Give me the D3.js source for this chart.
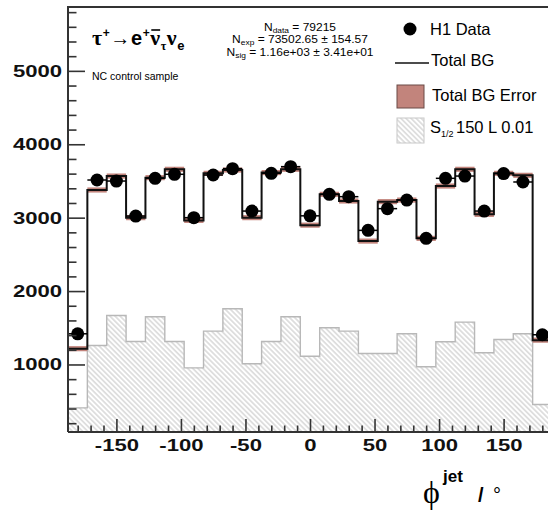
<!DOCTYPE html>
<html><head><meta charset="utf-8">
<script src="https://cdn.jsdelivr.net/npm/d3@7/dist/d3.min.js"></script>
<style>body{margin:0;background:#fff}svg{display:block}</style>
</head><body>
<script>
// phi^jet bin centres (degrees); every bin is 15 degrees wide
const phiBins = [-180,-165,-150,-135,-120,-105,-90,-75,-60,-45,-30,-15,0,15,30,45,60,75,90,105,120,135,150,165,180];
// H1 data, events per bin
const h1Data = [1418,3513,3499,3022,3536,3591,3000,3581,3668,3090,3604,3695,3025,3318,3286,2827,3123,3240,2718,3536,3567,3090,3600,3486,1405];
// total Standard Model background, events per bin
const totalBG = [1215,3377,3567,3000,3545,3659,2963,3604,3649,3000,3614,3659,2898,3318,3227,2681,3218,3240,2718,3431,3659,3045,3604,3577,1331];
// half-height of the background error band (events)
const totalBGErr = 35;
// signal S_1/2, M = 150 GeV, lambda = 0.01 (scaled for display)
const signal = [409,1259,1668,1313,1650,1313,954,1454,1759,1009,1313,1650,1113,1500,1454,1150,1150,1418,968,1309,1577,1159,1340,1418,454];

const xTicks = [-150,-100,-50,0,50,100,150];
const yTicks = [1000,2000,3000,4000,5000];
const statLines = [
  {sym:"N", sub:"data", rest:" = 79215"},
  {sym:"N", sub:"exp", rest:" = 73502.65 \u00b1 154.57"},
  {sym:"N", sub:"sig", rest:" = 1.16e+03 \u00b1 3.41e+01"}
];
const legendItems = ["H1 Data","Total BG","Total BG Error"];

const W = 548, H = 513;
const binHalf = 7.5;
const x = d3.scaleLinear().domain([-187.5,187.5]).range([68,552]);
const y = d3.scaleLinear().domain([80,5870]).range([432,7]);

const svg = d3.select("body").append("svg").attr("width",W).attr("height",H);
const defs = svg.append("defs");
const pat = defs.append("pattern").attr("id","hatch").attr("patternUnits","userSpaceOnUse")
  .attr("width",3.6).attr("height",3.6).attr("patternTransform","rotate(-45)");
pat.append("line").attr("x1",1.8).attr("x2",1.8).attr("y1",0).attr("y2",3.6)
  .attr("stroke","#b4b4b4").attr("stroke-width",0.8);

const steps = vals => phiBins.flatMap((c,i)=>[[c-binHalf, vals[i]],[c+binHalf, vals[i]]]);
const stepLine = d3.line().x(d=>x(d[0])).y(d=>y(d[1]));

// signal: hatched histogram
svg.append("path")
  .attr("d", d3.area().x(d=>x(d[0])).y0(y.range()[0]).y1(d=>y(d[1]))(steps(signal)))
  .attr("fill","url(#hatch)");
svg.append("path").attr("d", stepLine(steps(signal)))
  .attr("fill","none").attr("stroke","#b8b8b8").attr("stroke-width",1.4);

// background error band
svg.append("g").selectAll("rect").data(phiBins).join("rect")
  .attr("x", d=>x(d-binHalf)).attr("width", d=>x(d+binHalf)-x(d-binHalf))
  .attr("y", (d,i)=>y(totalBG[i]+totalBGErr))
  .attr("height", (d,i)=>y(totalBG[i]-totalBGErr)-y(totalBG[i]+totalBGErr))
  .attr("fill","#c2847c");

// background histogram
svg.append("path").attr("d", stepLine(steps(totalBG)))
  .attr("fill","none").attr("stroke","#111").attr("stroke-width",2);

// data points with error bars
const gd = svg.append("g");
gd.selectAll("line.xe").data(phiBins).join("line").attr("class","xe")
  .attr("x1", d=>x(d-binHalf)).attr("x2", d=>x(d+binHalf))
  .attr("y1", (d,i)=>y(h1Data[i])).attr("y2", (d,i)=>y(h1Data[i]))
  .attr("stroke","#000").attr("stroke-width",1.5);
gd.selectAll("line.ye").data(phiBins).join("line").attr("class","ye")
  .attr("x1", d=>x(d)).attr("x2", d=>x(d))
  .attr("y1", (d,i)=>y(h1Data[i]+Math.sqrt(h1Data[i]))).attr("y2", (d,i)=>y(h1Data[i]-Math.sqrt(h1Data[i])))
  .attr("stroke","#000").attr("stroke-width",1.5);
gd.selectAll("circle").data(phiBins).join("circle")
  .attr("cx", d=>x(d)).attr("cy", (d,i)=>y(h1Data[i])).attr("r",6.5).attr("fill","#000");

// frame
svg.append("path").attr("d",`M${x.range()[0]},${y.range()[0]}V${y.range()[1]}H${x.range()[1]}M${x.range()[0]},${y.range()[0]}H${x.range()[1]}`)
  .attr("fill","none").attr("stroke","#333").attr("stroke-width",2);

const styleTicks = g => {
  g.select(".domain").remove();
  g.selectAll(".tick line").attr("stroke","#333").attr("stroke-width",1.6);
};
const styleLabels = g => g.selectAll("text")
  .attr("font-family","'Liberation Sans', Arial, sans-serif").attr("font-weight","bold")
  .attr("font-size",17).attr("fill","#111").attr("transform","scale(1.3,1)");

const yMinor = d3.range(200,5900,200).filter(v=>v%1000!==0);
const xMinor = d3.range(-180,181,10).filter(v=>v%50!==0);

svg.append("g").attr("transform",`translate(${x.range()[0]},0)`)
  .call(d3.axisLeft(y).tickValues(yMinor).tickSize(-8.5).tickFormat("")).call(styleTicks);
svg.append("g").attr("transform",`translate(${x.range()[0]},0)`)
  .call(d3.axisLeft(y).tickValues(yTicks).tickSize(-17).tickPadding(4.5).tickFormat(d=>String(d)))
  .call(styleTicks).call(styleLabels);
svg.append("g").attr("transform",`translate(0,${y.range()[0]})`)
  .call(d3.axisBottom(x).tickValues(xMinor).tickSize(-6.5).tickFormat("")).call(styleTicks);
svg.append("g").attr("transform",`translate(0,${y.range()[0]})`)
  .call(d3.axisBottom(x).tickValues(xTicks).tickSize(-13).tickPadding(7).tickFormat(d=>String(d)))
  .call(styleTicks).call(styleLabels);

// axis title: phi^jet / degree
const sans = "'Liberation Sans', Arial, sans-serif";
const serif = "'Liberation Serif', 'DejaVu Serif', serif";
svg.append("text").attr("x",423).attr("y",503).attr("font-family",serif).attr("font-size",32).text("\u03d5");
svg.append("text").attr("x",443).attr("y",482).attr("font-family",sans).attr("font-weight","bold").attr("font-size",17).text("jet");
svg.append("text").attr("x",478).attr("y",502).attr("font-family",sans).attr("font-weight","bold").attr("font-size",20).text("/");
svg.append("text").attr("x",493).attr("y",502).attr("font-family",sans).attr("font-size",20).text("\u00b0");

// process label, laid out piece by piece
const pieces = [
  {t:"\u03c4", f:serif, s:22, b:0, w:"bold"},
  {t:"+", f:sans, s:12, b:-8, w:"bold"},
  {t:"\u2192", f:serif, s:20, b:0, w:"normal"},
  {t:"e", f:sans, s:20, b:0, w:"bold"},
  {t:"+", f:sans, s:12, b:-8, w:"bold"},
  {t:"\u03bd", f:serif, s:22, b:0, w:"bold", bar:true},
  {t:"\u03c4", f:serif, s:12, b:5, w:"bold"},
  {t:"\u03bd", f:serif, s:22, b:0, w:"bold"},
  {t:"e", f:sans, s:13, b:5, w:"bold"}
];
let px = 92;
const gf = svg.append("g");
pieces.forEach(p => {
  const t = gf.append("text").attr("x",px).attr("y",45+p.b).attr("font-family",p.f)
    .attr("font-size",p.s).attr("font-weight",p.w).text(p.t);
  const w = t.node().getComputedTextLength();
  if (p.bar) gf.append("line").attr("x1",px+1).attr("x2",px+w).attr("y1",30).attr("y2",30)
    .attr("stroke","#000").attr("stroke-width",1.6);
  px += w + 0.6;
});
svg.append("text").attr("x",92).attr("y",80).attr("font-family",sans).attr("font-size",10.5).text("NC control sample");

// event counts (centred block)
statLines.forEach((l,i) => {
  const t = svg.append("text").attr("x",300/1.2).attr("y",31+i*12.5).attr("text-anchor","middle")
    .attr("transform","scale(1.2,1)")
    .attr("font-family",sans).attr("font-size",10);
  t.append("tspan").text(l.sym);
  t.append("tspan").attr("font-size",7).attr("dy",2).text(l.sub);
  t.append("tspan").attr("dy",-2).text(l.rest);
});

// legend
const lg = svg.append("g").attr("font-family",sans).attr("font-size",16.5);
lg.append("circle").attr("cx",410).attr("cy",29).attr("r",6.5).attr("fill","#000");
lg.append("text").attr("x",430).attr("y",35).text(legendItems[0]);
lg.append("line").attr("x1",395).attr("x2",429).attr("y1",63).attr("y2",63).attr("stroke","#111").attr("stroke-width",1.5);
lg.append("text").attr("x",431).attr("y",66).text(legendItems[1]);
lg.append("rect").attr("x",397).attr("y",85).attr("width",27).attr("height",23).attr("fill","#c2847c").attr("stroke","#6a4a46").attr("stroke-width",1);
lg.append("text").attr("x",432).attr("y",101).text(legendItems[2]);
lg.append("rect").attr("x",397).attr("y",118).attr("width",27).attr("height",25).attr("fill","url(#hatch)").attr("stroke","#c8c8c8").attr("stroke-width",1);
const st = lg.append("text").attr("x",430).attr("y",133);
st.append("tspan").text("S");
st.append("tspan").attr("font-size",9).attr("dy",4).text("1/2");
st.append("tspan").attr("x",456).attr("dy",-4).text("150 L 0.01");
</script>
</body></html>
